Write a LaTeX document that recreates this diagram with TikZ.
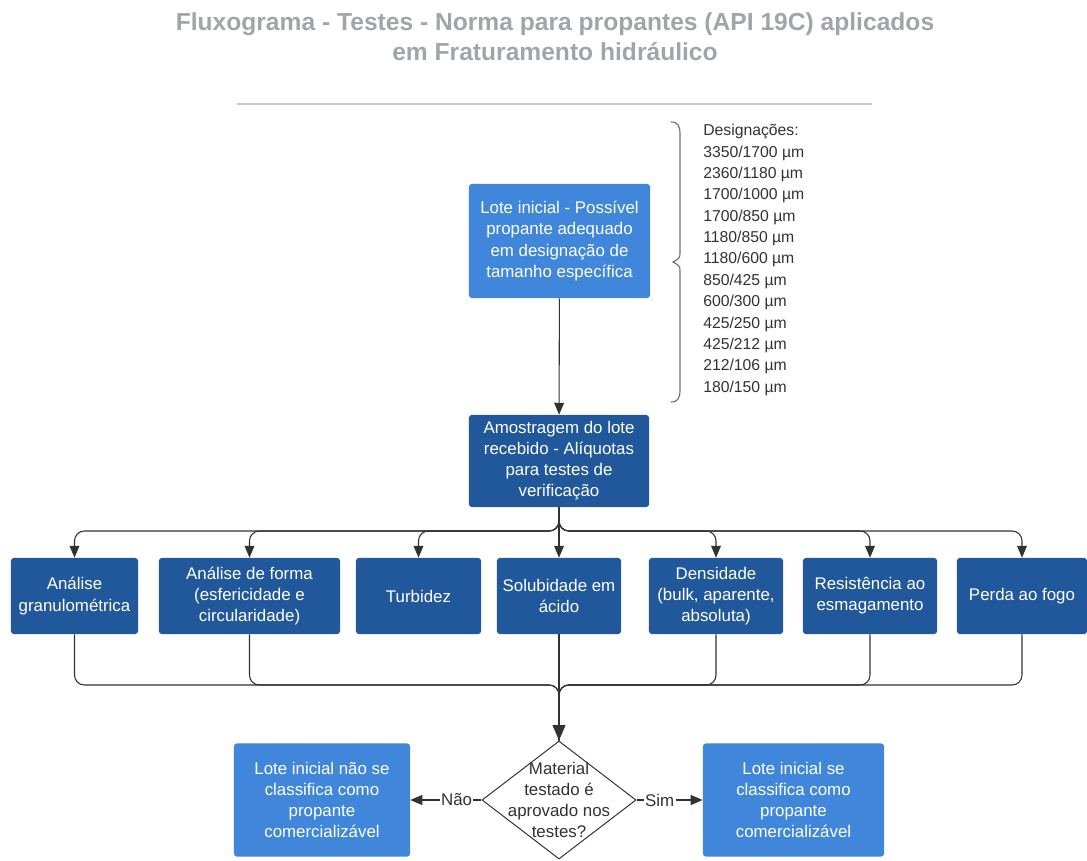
\documentclass[tikz,border=0pt]{standalone}
\usepackage{fontspec}
\setmainfont{Liberation Sans}
\usetikzlibrary{shapes.geometric,arrows.meta}
\definecolor{titlegray}{RGB}{161,165,171}
\definecolor{rulegray}{RGB}{200,201,204}
\definecolor{lightblue}{RGB}{64,135,219}
\definecolor{darkblue}{RGB}{33,88,155}
\definecolor{linegray}{RGB}{50,50,50}
\definecolor{bracegray}{RGB}{110,110,110}

\begin{document}
\begin{tikzpicture}[x=0.025cm, y=-0.025cm,
        box/.style={fill=#1, text=white, rounded corners=2pt, align=center, inner sep=2pt, font=\fontsize{12}{15}\selectfont},
        arrow/.style={draw=linegray, line width=0.75pt, -{Triangle[length=8.5pt, width=7pt]}},
        wire/.style={draw=linegray, line width=0.75pt, rounded corners=7pt},
        edgelabel/.style={fill=white, text=linegray, inner sep=1pt, font=\fontsize{12}{15}\selectfont}]
        \useasboundingbox (0,0) rectangle (1087,861);

        % Title
        \node[text=titlegray, align=center, font=\fontsize{17.5}{21.5}\selectfont\bfseries] (title) at (555,37) {Fluxograma - Testes - Norma para propantes (API 19C) aplicados\\em Fraturamento hidráulico};
        \draw[rulegray, line width=1.2pt] (237,104) -- (872,104);

        % Initial lot and sampling
        \node[box=lightblue, minimum width=4.525cm, minimum height=2.85cm] (lote) at (559.5,241) {Lote inicial - Possível\\propante adequado\\em designação de\\tamanho específica};
        \node[box=darkblue, minimum width=4.5cm, minimum height=2.3cm] (amostra) at (559,461) {Amostragem do lote\\recebido - Alíquotas\\para testes de\\verificação};
        \draw[arrow] (lote) -- (amostra);

        % Size designations
        \node[anchor=north west, align=left, inner sep=0pt, text=linegray, font=\fontsize{11.2}{15.2}\selectfont] (desig) at (703,124) {Designações:\\3350/1700 µm\\2360/1180 µm\\1700/1000 µm\\1700/850 µm\\1180/850 µm\\1180/600 µm\\850/425 µm\\600/300 µm\\425/250 µm\\425/212 µm\\212/106 µm\\180/150 µm};
        \draw[bracegray, line width=0.8pt] (671,122) .. controls (678,122) and (680,126) .. (680,134) -- (680,252) .. controls (680,258) .. (673,262) .. controls (680,266) .. (680,272) -- (680,390) .. controls (680,398) and (678,402) .. (671,402);

        % Tests
        \node[box=darkblue, minimum width=3.175cm, minimum height=1.9cm] (gran) at (74.5,596) {Análise\\granulométrica};
        \node[box=darkblue, minimum width=4.525cm, minimum height=1.9cm] (forma) at (249.5,596) {Análise de forma\\(esfericidade e\\circularidade)};
        \node[box=darkblue, minimum width=3.125cm, minimum height=1.9cm] (turb) at (418.5,596) {Turbidez};
        \node[box=darkblue, minimum width=3.1cm, minimum height=1.9cm] (solub) at (559,596) {Solubidade em\\ácido};
        \node[box=darkblue, minimum width=3.35cm, minimum height=1.9cm] (dens) at (716,596) {Densidade\\(bulk, aparente,\\absoluta)};
        \node[box=darkblue, minimum width=3.35cm, minimum height=1.9cm] (resist) at (870,596) {Resistência ao\\esmagamento};
        \node[box=darkblue, minimum width=3.25cm, minimum height=1.9cm] (perda) at (1022,596) {Perda ao fogo};

        \coordinate (split) at (559,531);
        \coordinate (merge) at (559,685);

        \draw[arrow, rounded corners=7pt] (amostra.south) -- (split) -| (gran.north);
        \draw[arrow, rounded corners=7pt] (amostra.south) -- (split) -| (forma.north);
        \draw[arrow, rounded corners=7pt] (amostra.south) -- (split) -| (turb.north);
        \draw[arrow] (amostra.south) -- (solub.north);
        \draw[arrow, rounded corners=7pt] (amostra.south) -- (split) -| (dens.north);
        \draw[arrow, rounded corners=7pt] (amostra.south) -- (split) -| (resist.north);
        \draw[arrow, rounded corners=7pt] (amostra.south) -- (split) -| (perda.north);

        % Decision
        \node[diamond, draw=linegray, fill=white, line width=0.7pt, minimum width=3.85cm, minimum height=2.95cm, inner sep=0pt,
              label={[align=center, text=linegray, font=\fontsize{12}{15}\selectfont]center:Material\\testado é\\aprovado nos\\testes?}] (dia) at (559,800) {};

        \draw[wire] (gran.south) |- (merge) -- (dia.north);
        \draw[wire] (forma.south) |- (merge) -- (dia.north);
        \draw[wire] (solub.south) -- (dia.north);
        \draw[wire] (dens.south) |- (merge) -- (dia.north);
        \draw[wire] (resist.south) |- (merge) -- (dia.north);
        \draw[wire] (perda.south) |- (merge) -- (dia.north);
        \draw[arrow, line width=1.4pt, -{Triangle[length=11pt, width=9pt]}] (merge) -- (dia.north);

        % Outcomes
        \node[box=lightblue, minimum width=4.4cm, minimum height=2.825cm] (nao) at (322,800) {Lote inicial não se\\classifica como\\propante\\comercializável};
        \node[box=lightblue, minimum width=4.525cm, minimum height=2.825cm] (sim) at (793.5,800) {Lote inicial se\\classifica como\\propante\\comercializável};
        \draw[arrow, line width=1pt] (dia.west) -- node[edgelabel, pos=0.35] {Não} (nao.east);
        \draw[arrow, line width=1pt] (dia.east) -- node[edgelabel, pos=0.35] {Sim} (sim.west);
    \end{tikzpicture}
\end{document}
